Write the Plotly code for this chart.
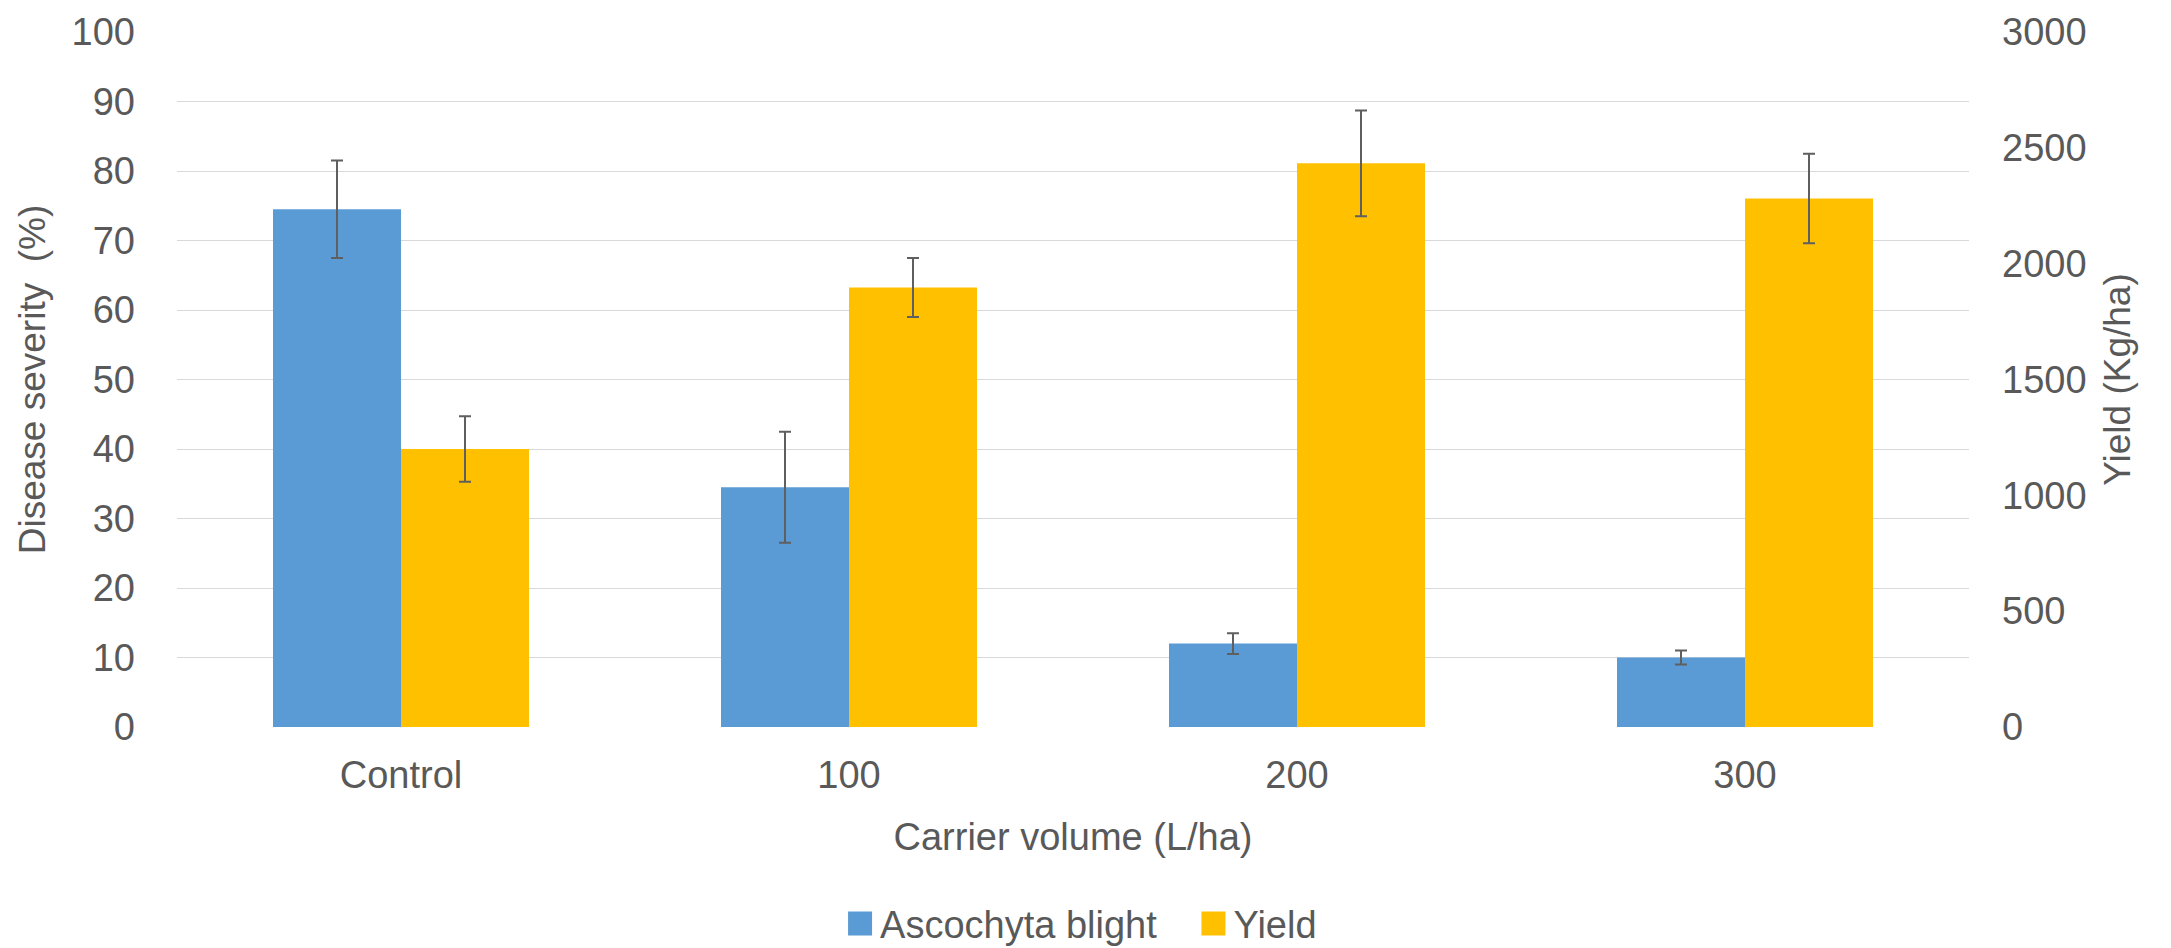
import plotly.graph_objects as go

categories = ["Control", "100", "200", "300"]
severity = [74.5, 34.5, 12.0, 10.0]
severity_err = [7.0, 8.0, 1.5, 1.0]
yield_vals = [1200, 1897, 2433, 2281]
yield_err = [141, 127, 228, 193]

BLUE = "#5B9BD5"
GOLD = "#FFC000"
TXT = "#595959"
GRID = "#D9D9D9"
FONT = "Liberation Sans"
BW = 128 / 448

fig = go.Figure()
fig.add_trace(go.Bar(
    x=categories, y=severity, name="Ascochyta blight\u00a0\u00a0\u00a0",
    marker=dict(color=BLUE, line=dict(width=0)),
    width=BW, offset=-BW,
    error_y=dict(type="data", array=severity_err, color="#5F5F5F", thickness=2, width=6),
    yaxis="y",
))
fig.add_trace(go.Bar(
    x=categories, y=yield_vals, name="Yield",
    marker=dict(color=GOLD, line=dict(width=0)),
    width=BW, offset=0,
    error_y=dict(type="data", array=yield_err, color="#5F5F5F", thickness=2, width=6),
    yaxis="y2",
))

fig.update_layout(
    width=2171, height=948,
    paper_bgcolor="white", plot_bgcolor="white",
    margin=dict(l=169, r=210, t=24, b=228.5, autoexpand=False),
    font=dict(family=FONT, color=TXT, size=38),
    barmode="overlay",
    showlegend=True,
    legend=dict(orientation="h", x=0.5045, xanchor="center", yref="container", y=0.034, yanchor="middle",
                font=dict(size=38, color=TXT), itemwidth=30, traceorder="normal"),
    xaxis=dict(
        type="category", range=[-0.5, 3.5], showgrid=False, showline=False, zeroline=False,
        ticks="", tickfont=dict(size=38, color=TXT), ticklabelstandoff=22,
        title=dict(text="Carrier volume (L/ha)", font=dict(size=38, color=TXT), standoff=28),
    ),
    yaxis=dict(
        range=[0, 100], dtick=10, showgrid=True, gridcolor=GRID, gridwidth=1.3,
        zeroline=False, showline=False, ticks="", tickfont=dict(size=38, color=TXT),
        ticklabelstandoff=41,
        title=dict(text="Disease severity\u00a0 (%)", font=dict(size=37, color=TXT), standoff=14),
    ),
    yaxis2=dict(
        range=[0, 3000], dtick=500, overlaying="y", side="right", showgrid=False,
        zeroline=False, showline=False, ticks="", tickfont=dict(size=38, color=TXT),
        ticklabelstandoff=32,
        title=dict(text="Yield (Kg/ha)", font=dict(size=37, color=TXT), standoff=18),
    ),
)

post = """
var gd = document.getElementById('{plot_id}');
function fixLegend(){
  gd.querySelectorAll('.legendpoints path').forEach(function(p){
    var t = p.getAttribute('transform') || '';
    if (t.indexOf('scale') < 0) { p.setAttribute('transform', t + ' scale(2)'); }
  });
}
fixLegend();
gd.on('plotly_afterplot', fixLegend);
"""

fig.write_html("out.html", post_script=post)
